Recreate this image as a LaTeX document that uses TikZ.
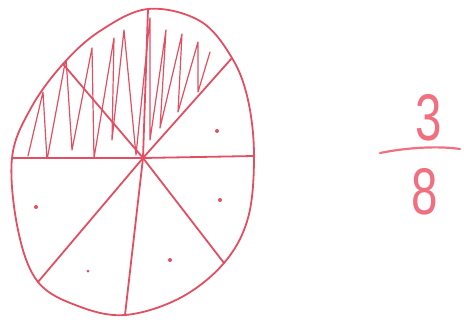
\documentclass[tikz,border=0pt]{standalone}
\usepackage{fontspec}
\setmainfont{Liberation Sans}
\definecolor{ink}{RGB}{226,78,98}
\definecolor{inkl}{RGB}{240,112,128}
\begin{document}
\begin{tikzpicture}[x=1pt,y=-1pt,
  pen/.style={draw=ink,line width=1.8pt,line cap=round,line join=round},
  hatch/.style={draw=ink,line width=1.2pt,line cap=round,line join=round},
  dotm/.style={circle,fill=ink,inner sep=0pt,minimum size=4pt},
  digit/.style={text=inkl,font=\fontsize{66}{66}\selectfont,inner sep=0pt,xscale=0.72}]
\useasboundingbox (0,0) rectangle (464,322);
% centre and rim points
\coordinate (c) at (143,158);
\coordinate (top) at (148,9);
\coordinate (ur) at (232,58);
\coordinate (r) at (254,156);
\coordinate (lr) at (224,263);
\coordinate (b) at (125,315);
\coordinate (ll) at (38,282);
\coordinate (l) at (12,158);
\coordinate (ul) at (63,64);
\def\rim{plot[smooth cycle,tension=0.6] coordinates {(148,9) (200,21) (232,58) (248,100) (254,156) (248,218) (224,263) (180,298) (125,315) (78,306) (38,282) (18,230) (12,158) (31,108) (63,64) (100,31)}}
% hatching of three sectors
\begin{scope}
\clip (l) -- (c) -- (ur) -- (260,0) -- (0,0) -- (0,158) -- cycle;
\clip \rim;
\draw[hatch] (28,156) -- (43,92) -- (47,160) -- (66,58) -- (72,150) -- (92,48)
  -- (94,158) -- (114,38) -- (112,140) -- (124,30) -- (136,155) -- (150,18)
  -- (150,140) -- (166,30) -- (160,128) -- (182,34) -- (178,112) -- (198,42)
  -- (198,92) -- (210,52);
\end{scope}
% outline
\draw[pen] \rim;
% spokes
\foreach \p in {top,ur,r,lr,b,ll,l,ul} \draw[pen] (c) -- (\p);
% dots
\node[dotm] (d1) at (217,131) {};
\node[dotm] (d2) at (220,200) {};
\node[dotm] (d3) at (170,260) {};
\node[dotm] (d4) at (36,207) {};
\node[dotm,minimum size=3pt] (d5) at (88,271) {};
% fraction
\node[digit] (n3) at (429,118) {3};
\node[digit] (n8) at (425,192) {8};
\coordinate (fa) at (380,153);
\coordinate (fb) at (460,149);
\draw[draw=inkl,line width=2.2pt,line cap=round] (fa) .. controls (410,147) and (440,146) .. (fb);
\end{tikzpicture}
\end{document}
